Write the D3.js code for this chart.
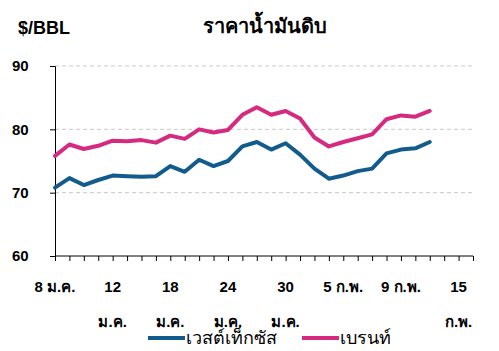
<!DOCTYPE html>
<html>
<head>
<meta charset="utf-8">
<script src="https://cdn.jsdelivr.net/npm/d3@7"></script>
<style>
  body { margin: 0; background: #fff; }
  svg { display: block; font-family: Arial, "Liberation Sans", sans-serif; }
</style>
</head>
<body>
<svg id="chart" width="499" height="351"></svg>
<script>
// values, one per trading day starting 8 ม.ค.
let wti   = [70.8, 72.3, 71.2, 72.0, 72.7, 72.6, 72.5, 72.6, 74.2, 73.3, 75.2, 74.2, 75.0, 77.3,
             78.0, 76.8, 77.8, 76.0, 73.8, 72.2, 72.7, 73.4, 73.8, 76.2, 76.8, 77.0, 78.0];
let brent = [75.8, 77.6, 76.9, 77.4, 78.2, 78.1, 78.3, 77.9, 79.0, 78.5, 80.0, 79.5, 79.9, 82.3,
             83.5, 82.3, 82.9, 81.7, 78.7, 77.3, 78.0, 78.6, 79.2, 81.6, 82.2, 82.0, 82.9];
let nSlots = 30;
let tickIdx    = [0, 4, 8, 12, 16, 20, 24, 28];
let tickLines  = [["8 ม.ค."], ["12", "ม.ค."], ["18", "ม.ค."], ["24", "ม.ค."], ["30", "ม.ค."],
                  ["5 ก.พ."], ["9 ก.พ."], ["15", "ก.พ."]];
let yTicks = [60, 70, 80, 90];
let seriesNames  = ["เวสต์เท็กซัส", "เบรนท์"];
let seriesColors = ["#125c8d", "#d52a80"];

let svg = d3.select("#chart");
let xscale = d3.scaleLinear().domain([0, nSlots - 1]).range([55, 473]);
let yscale = d3.scaleLinear().domain([60, 90]).range([256, 66]);

// title + unit
svg.append("text").attr("x", 18).attr("y", 34)
   .attr("font-size", 18).attr("font-weight", "bold").text("$/BBL");
svg.append("text").attr("x", 265).attr("y", 33).attr("text-anchor", "middle")
   .attr("font-size", 20).attr("font-weight", "bold").text("ราคาน้ำมันดิบ");

// grid
svg.append("g").selectAll("line").data(yTicks.filter(d => d > 60)).join("line")
   .attr("x1", 55).attr("x2", 472)
   .attr("y1", d => yscale(d)).attr("y2", d => yscale(d))
   .attr("stroke", "#c8c8c8").attr("stroke-dasharray", "4,3");

// y axis
let yAxis = d3.axisLeft(yscale).tickValues(yTicks).tickSize(5).tickFormat(d3.format("d"));
let gy = svg.append("g").attr("transform", "translate(55,0)").call(yAxis);
gy.select(".domain").attr("stroke", "#000");
gy.selectAll("text").attr("font-size", 15).attr("font-weight", "bold")
  .attr("font-family", "Arial, 'Liberation Sans', sans-serif")
  .attr("text-anchor", "start").attr("x", -43).attr("fill", "#000");

// x axis
let xAxis = d3.axisBottom(xscale).tickValues(d3.range(nSlots)).tickSize(5).tickFormat("");
let gx = svg.append("g").attr("transform", "translate(0,256)").call(xAxis);
gx.select(".domain").attr("d", "M55,0H473").attr("stroke", "#000");

let labels = svg.append("g").selectAll("text").data(tickIdx).join("text")
   .attr("text-anchor", "middle").attr("font-size", 15).attr("font-weight", "bold")
   .attr("x", d => xscale(d)).attr("y", 292);
labels.each(function(d, i) {
  let t = d3.select(this);
  tickLines[i].forEach((s, j) => {
    t.append("tspan").attr("x", xscale(d)).attr("y", 292 + j * 35).text(s);
  });
});

// lines
let dline = d3.line().x((d, i) => xscale(i)).y(d => yscale(d));
[wti, brent].forEach((s, k) => {
  svg.append("path").datum(s)
     .attr("fill", "none").attr("stroke", seriesColors[k])
     .attr("stroke-width", 4).attr("stroke-linejoin", "round").attr("stroke-linecap", "round")
     .attr("d", dline);
});

// legend
let legX = [148, 302];
seriesNames.forEach((name, k) => {
  let g = svg.append("g").attr("transform", "translate(" + legX[k] + ",338)");
  g.append("line").attr("x1", 0).attr("x2", 37).attr("stroke", seriesColors[k]).attr("stroke-width", 4);
  g.append("text").attr("x", 38).attr("y", 6).attr("font-size", 18).text(name);
});
</script>
</body>
</html>
